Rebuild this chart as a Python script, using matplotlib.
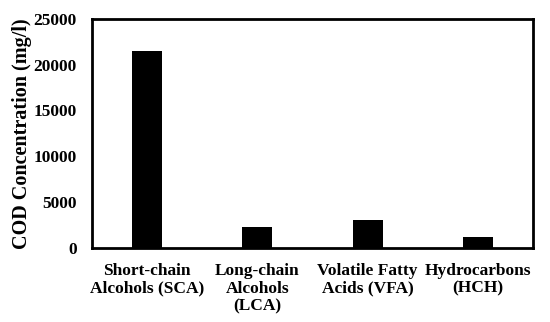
import matplotlib
matplotlib.use("Agg")
import matplotlib.pyplot as plt

categories = ["Short-chain\nAlcohols (SCA)", "Long-chain\nAlcohols\n(LCA)",
              "Volatile Fatty\nAcids (VFA)", "Hydrocarbons\n(HCH)"]
values = [21500, 2200, 3000, 1200]
yticks = [0, 5000, 10000, 15000, 20000, 25000]

plt.rcParams['font.family'] = ['Liberation Serif', 'DejaVu Serif']
fig = plt.figure(figsize=(5.5, 3.22), dpi=100)
ax = fig.add_axes([92/550, 1-247.5/322, (533-92)/550, (247.5-19)/322])
x = range(len(categories))
ax.bar(x, values, width=0.27, color='black')
ax.set_xlim(-0.5, 3.5)
ax.set_ylim(0, 25000)
ax.set_yticks(yticks)
ax.set_yticklabels([str(v) for v in yticks], fontsize=12.5, fontweight='bold')
ax.set_xticks(list(x))
ax.set_xticklabels(categories, fontsize=12.5, fontweight='bold', linespacing=1.15)
ax.tick_params(axis='both', length=0)
ax.tick_params(axis='x', pad=11)
ax.tick_params(axis='y', pad=11)
for s in ax.spines.values():
    s.set_linewidth(2)
ax.set_ylabel("COD Concentration (mg/l)", fontsize=14.5, fontweight='bold', labelpad=1)
fig.savefig("out.png", dpi=100)
